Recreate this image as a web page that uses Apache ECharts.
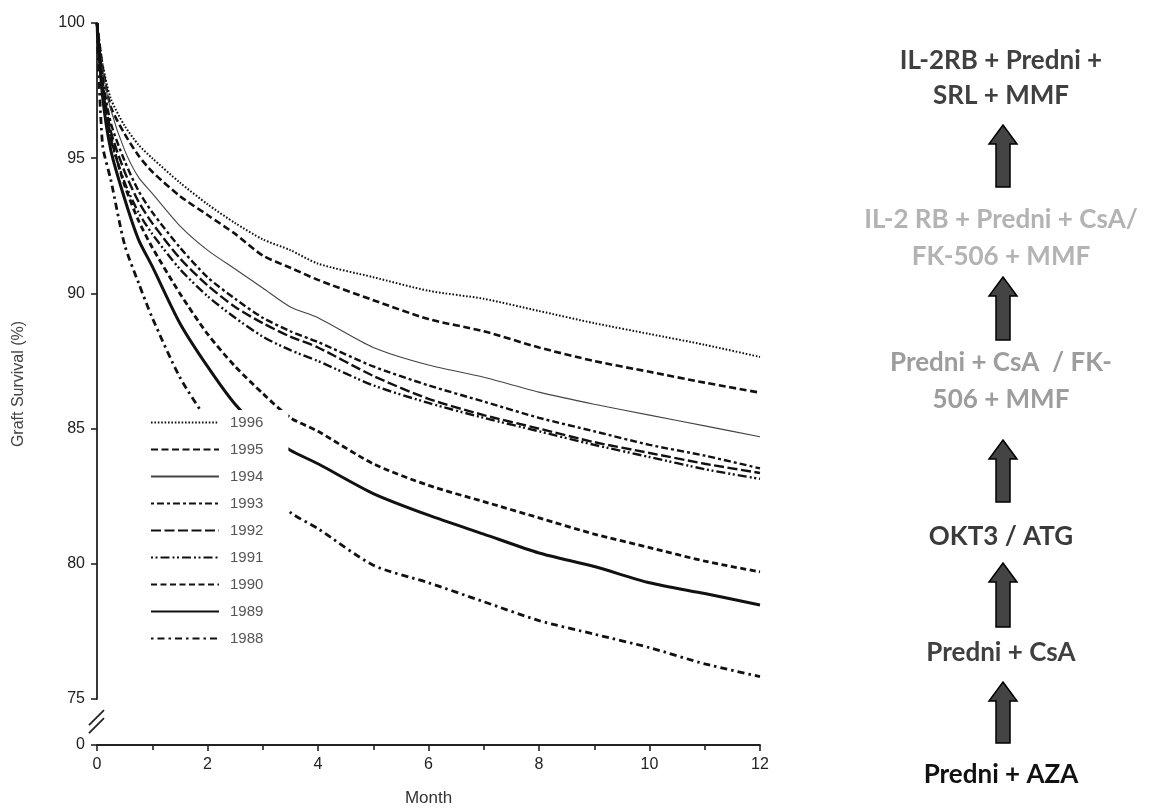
<!DOCTYPE html>
<html>
<head>
<meta charset="utf-8">
<script src="https://cdn.jsdelivr.net/npm/echarts@6.0.0/dist/echarts.min.js"></script>
<style>
  html, body { margin: 0; background: #fff; }
  #main { width: 1155px; height: 812px; }
</style>
</head>
<body>
<div id="main"></div>
<script>
// months after transplant (x positions of the sampled points)
const months = [0, 0.1, 0.25, 0.5, 0.75, 1, 1.5, 2, 2.5, 3, 3.5, 4, 5, 6, 7, 8, 9, 10, 11, 12];

const years = ['1996', '1995', '1994', '1993', '1992', '1991', '1990', '1989', '1988'];

// graft survival (%) per transplant year
const s1996 = [100, 98.5, 97.2, 96.2, 95.5, 95.0, 94.1, 93.3, 92.6, 92.0, 91.6, 91.1, 90.6, 90.1, 89.8, 89.35, 88.9, 88.5, 88.1, 87.65];
const s1995 = [100, 98.4, 96.9, 95.9, 95.1, 94.5, 93.6, 92.9, 92.2, 91.4, 90.95, 90.5, 89.75, 89.05, 88.6, 88.0, 87.5, 87.1, 86.7, 86.33];
const s1994 = [100, 98.3, 96.8, 95.3, 94.3, 93.7, 92.5, 91.6, 90.9, 90.2, 89.5, 89.1, 88.0, 87.35, 86.9, 86.35, 85.9, 85.5, 85.1, 84.7];
const s1993 = [100, 98.0, 96.3, 94.9, 93.8, 93.0, 91.7, 90.6, 89.8, 89.1, 88.6, 88.2, 87.3, 86.6, 86.0, 85.4, 84.9, 84.4, 84.0, 83.53];
const s1992 = [100, 97.8, 96.0, 94.5, 93.4, 92.6, 91.3, 90.3, 89.5, 88.9, 88.4, 88.0, 86.95, 86.1, 85.5, 85.0, 84.5, 84.1, 83.7, 83.36];
const s1991 = [100, 97.6, 95.7, 94.1, 93.0, 92.2, 90.9, 89.9, 89.1, 88.4, 87.9, 87.5, 86.6, 85.95, 85.4, 84.9, 84.4, 83.95, 83.5, 83.14];
const s1990 = [100, 97.6, 95.8, 94.0, 92.7, 91.7, 90.0, 88.5, 87.3, 86.3, 85.4, 84.9, 83.7, 82.9, 82.3, 81.7, 81.1, 80.6, 80.1, 79.7];
const s1989 = [100, 97.3, 95.3, 93.5, 92.0, 91.0, 88.9, 87.3, 85.9, 84.9, 84.2, 83.7, 82.6, 81.8, 81.1, 80.4, 79.9, 79.3, 78.9, 78.48];
const s1988 = [100, 95.5, 94.2, 91.8, 90.4, 89.1, 86.9, 85.3, 84.0, 82.9, 81.9, 81.3, 79.95, 79.3, 78.6, 77.9, 77.4, 76.9, 76.3, 75.83];

const survival = [s1996, s1995, s1994, s1993, s1992, s1991, s1990, s1989, s1988];

const xTicks = [0, 2, 4, 6, 8, 10, 12];
const yTicks = [0, 75, 80, 85, 90, 95, 100];

// treatment history, bottom to top
const steps = [
  { lines: ['Predni + AZA'], color: '#111111' },
  { lines: ['Predni + CsA'], color: '#404040' },
  { lines: ['OKT3 / ATG'], color: '#3a3a3a' },
  { lines: ['Predni + CsA  / FK-', '506 + MMF'], color: '#9d9d9d' },
  { lines: ['IL-2 RB + Predni + CsA/', 'FK-506 + MMF'], color: '#b3b3b3' },
  { lines: ['IL-2RB + Predni +', 'SRL + MMF'], color: '#404040' }
];

const lineLook = {
  '1996': { type: [1.6, 1.8], width: 2 },
  '1995': { type: [7, 3.5], width: 2.6 },
  '1994': { type: 'solid', width: 1.1, color: '#444' },
  '1993': { type: [3, 3, 7, 3], width: 2.4 },
  '1992': { type: [10, 3.5], width: 2.4 },
  '1991': { type: [2, 2.5, 2, 3, 9, 3], width: 2.4 },
  '1990': { type: [6, 3.5], width: 2.8 },
  '1989': { type: 'solid', width: 3 },
  '1988': { type: [2.5, 4, 7, 4], width: 2.8 }
};

const chart = echarts.init(document.getElementById('main'));
const font = 'Liberation Sans';

const series = years.map((y, i) => ({
  name: y,
  type: 'line',
  symbol: 'none',
  smooth: 0.25,
  color: lineLook[y].color || '#111',
  lineStyle: {
    color: lineLook[y].color || '#111',
    width: lineLook[y].width,
    type: lineLook[y].type
  },
  data: months.map((m, k) => [m, survival[i][k]])
}));

chart.setOption({
  animation: false,
  backgroundColor: '#fff',
  grid: { left: 97, right: 395, top: 23, bottom: 67 },
  legend: {
    orient: 'vertical',
    left: 140,
    top: 410,
    padding: [5, 25, 8, 10],
    itemWidth: 68,
    itemHeight: 14,
    itemGap: 12,
    backgroundColor: '#fff',
    itemStyle: { opacity: 0 },
    textStyle: { fontFamily: font, fontSize: 15, color: '#555', padding: [0, 0, 0, 6] },
    data: years
  },
  xAxis: {
    type: 'value',
    min: 0,
    max: 12,
    interval: 2,
    name: 'Month',
    nameLocation: 'middle',
    nameGap: 45,
    nameTextStyle: { fontFamily: font, fontSize: 17, color: '#333' },
    axisLine: { lineStyle: { color: '#222', width: 1.8 } },
    axisTick: { length: 6, lineStyle: { color: '#222', width: 1.6 } },
    minorTick: { show: true, splitNumber: 2, length: 5, lineStyle: { color: '#222', width: 1.6 } },
    axisLabel: {
      fontFamily: font, fontSize: 16, color: '#222', margin: 12,
      customValues: xTicks
    },
    splitLine: { show: false }
  },
  yAxis: {
    type: 'value',
    min: 0,
    max: 100,
    interval: 5,
    breaks: [{ start: 0, end: 75, gap: 1.7 }],
    breakArea: { show: false },
    name: 'Graft Survival (%)',
    nameLocation: 'middle',
    nameGap: 70,
    nameTextStyle: { fontFamily: font, fontSize: 16, color: '#444' },
    axisLine: { show: true, lineStyle: { color: '#222', width: 1.8 } },
    axisTick: { show: true, length: 6, lineStyle: { color: '#222', width: 1.6 }, customValues: yTicks },
    axisLabel: {
      fontFamily: font, fontSize: 16, color: '#222', margin: 12,
      customValues: yTicks
    },
    splitLine: { show: false }
  },
  series: series
});

// decorations: axis break marks and the treatment timeline on the right
const x0 = chart.convertToPixel({ xAxisIndex: 0 }, 0);
const yTop = chart.convertToPixel({ yAxisIndex: 0 }, 75);
const yBot = chart.convertToPixel({ yAxisIndex: 0 }, 0);
const ym = (yTop + yBot) / 2;

const graphics = [];
[-4, 4].forEach(dy => {
  graphics.push({
    type: 'line', silent: true, z: 10,
    shape: { x1: x0 - 8, y1: ym + dy + 7, x2: x0 + 7, y2: ym + dy - 8 },
    style: { stroke: '#222', lineWidth: 1.8 }
  });
});

const textY = [[775], [653], [537], [363, 400], [220, 257], [61, 96]];
const arrows = [[682, 743], [563, 627], [440, 502], [277, 340], [125, 187]];
const cx = 1001;
steps.forEach((st, i) => {
  st.lines.forEach((t, j) => {
    graphics.push({
      type: 'text', silent: true,
      style: {
        text: t, x: cx, y: textY[i][j],
        align: 'center', verticalAlign: 'middle',
        fontFamily: 'Lato', fontWeight: 'bold', fontSize: 26,
        fill: st.color
      }
    });
  });
});
arrows.forEach(a => {
  const ax = cx + 2, t = a[0], b = a[1];
  graphics.push({
    type: 'polygon', silent: true,
    shape: {
      points: [[ax, t], [ax + 14, t + 19], [ax + 7, t + 19], [ax + 7, b], [ax - 7, b], [ax - 7, t + 19], [ax - 14, t + 19]]
    },
    style: { fill: '#444', stroke: '#000', lineWidth: 1.5 }
  });
});

chart.setOption({ graphic: graphics });
</script>
</body>
</html>
